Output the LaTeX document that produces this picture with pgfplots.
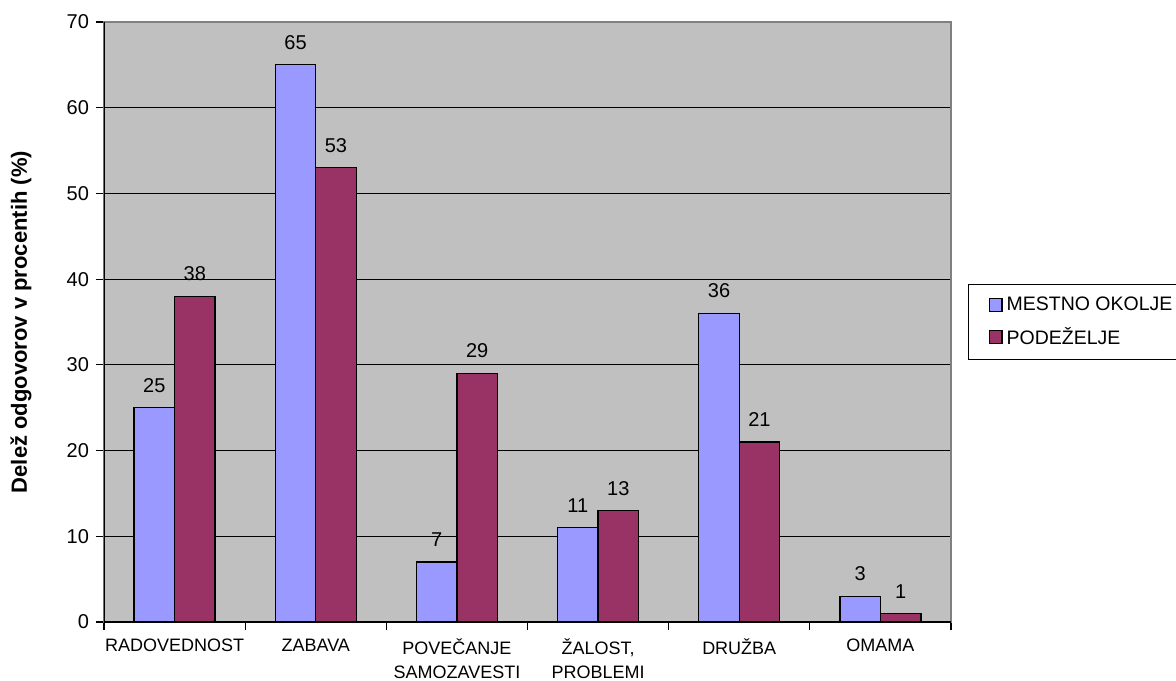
\documentclass[border=0pt]{standalone}
\usepackage{fontspec}
\setmainfont{Liberation Sans}
\usepackage{pgfplots}
\pgfplotsset{compat=1.18}
\definecolor{bgray}{HTML}{C0C0C0}
\definecolor{bblue}{HTML}{9999FF}
\definecolor{bmaroon}{HTML}{993366}
\definecolor{bordgray}{HTML}{808080}
\begin{document}
\begin{tikzpicture}
\path[use as bounding box] (0,0) rectangle (588pt,340pt);
\begin{axis}[
  at={(52pt,29pt)}, anchor=south west,
  scale only axis, width=423.5pt, height=300pt,
  /pgf/number format/assume math mode=true,
  ybar=0pt, bar width=0.2868,
  xmin=-0.5, xmax=5.5, ymin=0, ymax=70,
  axis background/.style={fill=bgray},
  axis line style={bordgray, line width=0.75pt},
  tick align=outside, major tick length=4pt,
  xtick pos=bottom, ytick pos=left,
  tick style={black, line width=0.6pt},
  xtick={-0.5,0.5,...,5.5}, xticklabels={,,,,,,},
  extra x ticks={0,1,2,3,4,5},
  extra x tick labels={RADOVEDNOST, ZABAVA, {POVEČANJE\\SAMOZAVESTI}, {ŽALOST,\\PROBLEMI}, DRUŽBA, OMAMA},
  extra x tick style={major tick length=0pt, xticklabel style={font=\fontsize{9}{12}\selectfont, align=center, yshift=-5pt}},
  ytick={0,10,...,70},
  yticklabel style={font=\fontsize{10}{12}\selectfont},
  ymajorgrids, major grid style={black, line width=0.5pt},
  ylabel={Delež odgovorov v procentih (\%)},
  every axis y label/.style={at={([xshift=-41.5pt]rel axis cs:0,0.5)}, rotate=90, anchor=center, font=\fontsize{11}{13}\selectfont\bfseries},
  nodes near coords,
  every node near coord/.append style={black, font=\fontsize{10}{12}\selectfont, yshift=4pt},
  every axis plot post/.append style={legend image code/.code={\draw[##1, draw=black, line width=0.6pt] (0pt,-3.2pt) rectangle (6.4pt,3.2pt);}},
  legend style={at={([xshift=8.5pt]rel axis cs:1,0.5633)}, anchor=north west, draw=black, line width=0.6pt, fill=white, font=\fontsize{9.75}{11}\selectfont, inner xsep=10pt, inner ysep=4pt, row sep=3pt},
  legend cell align=left,
]
\addplot[fill=bblue, draw=black, line width=0.6pt] coordinates {(0,25) (1,65) (2,7) (3,11) (4,36) (5,3)};
\addplot[fill=bmaroon, draw=black, line width=0.6pt] coordinates {(0,38) (1,53) (2,29) (3,13) (4,21) (5,1)};
\legend{MESTNO OKOLJE, PODEŽELJE}
\draw[black, line width=0.75pt] (rel axis cs:0,1) -- (rel axis cs:0,0) -- (rel axis cs:1,0);
\end{axis}
\end{tikzpicture}
\end{document}
